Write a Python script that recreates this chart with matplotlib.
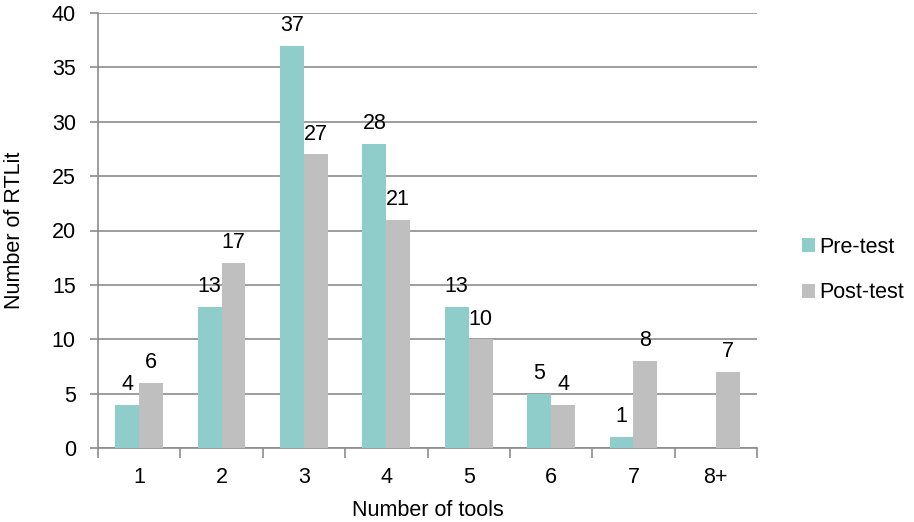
import matplotlib
matplotlib.use("Agg")
import matplotlib.pyplot as plt
import numpy as np

categories = ["1", "2", "3", "4", "5", "6", "7", "8+"]
pre_test = [4, 13, 37, 28, 13, 5, 1, None]
post_test = [6, 17, 27, 21, 10, 4, 8, 7]
series_names = ["Pre-test", "Post-test"]
y_ticks = [0, 5, 10, 15, 20, 25, 30, 35, 40]

plt.rcParams['font.family'] = ['Liberation Sans', 'DejaVu Sans']
FS = 15.5

fig = plt.figure(figsize=(9.14, 5.22), dpi=100)
ax = fig.add_axes([98/914, 1-448/522, (757-98)/914, (448-13)/522])

x = np.arange(len(categories))
w = 0.29
pre_color = "#8ECDCA"
post_color = "#BFBFBF"
grid_color = "#8C8C8C"

pre_vals = [np.nan if v is None else v for v in pre_test]
ax.bar(x - w/2, pre_vals, w, color=pre_color, label=series_names[0], zorder=3)
ax.bar(x + w/2, post_test, w, color=post_color, label=series_names[1], zorder=3)

for xi, v in zip(x, pre_test):
    if v is not None:
        ax.annotate(str(v), (xi - w/2, v), xytext=(0, 7), textcoords="offset points",
                    ha="center", va="bottom", fontsize=FS)
for xi, v in zip(x, post_test):
    ax.annotate(str(v), (xi + w/2, v), xytext=(0, 7), textcoords="offset points",
                ha="center", va="bottom", fontsize=FS)

ax.set_xlim(-0.5, len(categories) - 0.5)
ax.set_ylim(0, 40)
ax.set_yticks(y_ticks)
ax.set_yticklabels([str(t) for t in y_ticks], fontsize=FS)
ax.yaxis.grid(True, color=grid_color, linewidth=1.2, zorder=0)
ax.set_axisbelow(True)

ax.set_xticks(x)
ax.set_xticklabels(categories, fontsize=FS)
ax.tick_params(axis="x", length=0, pad=14)
ax.set_xticks(np.arange(-0.5, len(categories) + 0.5, 1), minor=True)
ax.tick_params(axis="x", which="minor", length=7, width=1.2, color=grid_color)
ax.tick_params(axis="y", length=6, width=1.2, color=grid_color, pad=10)

for s in ["top", "right"]:
    ax.spines[s].set_visible(False)
for s in ["left", "bottom"]:
    ax.spines[s].set_color(grid_color)
    ax.spines[s].set_linewidth(1.2)

ax.set_xlabel("Number of tools", fontsize=FS)
ax.xaxis.label.set_va("center")
ax.xaxis.set_label_coords(0.5, (448 - 510) / 435)
ax.set_ylabel("Number of RTLit", fontsize=FS)
ax.yaxis.label.set_va("center")
ax.yaxis.set_label_coords((15 - 98) / 659, 0.5)

ax.legend(loc="center left", bbox_to_anchor=(1.055, (448 - 270) / 435), frameon=False,
          fontsize=FS, handlelength=0.6, handleheight=0.6, handletextpad=0.2,
          labelspacing=1.15, borderaxespad=0)

fig.savefig("out.png", dpi=100)
